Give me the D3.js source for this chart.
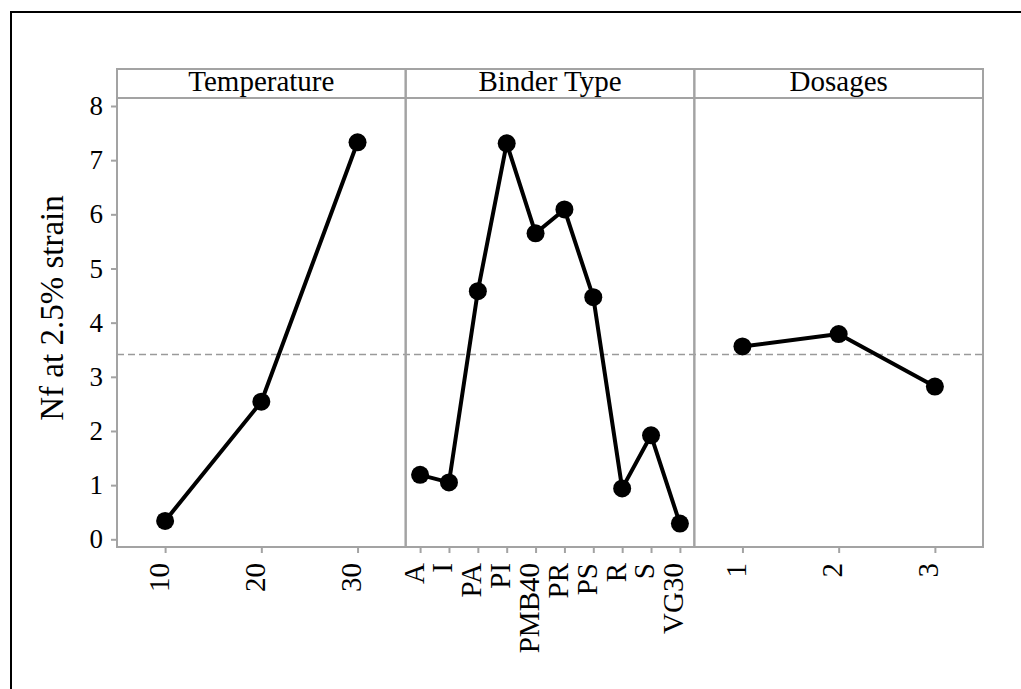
<!DOCTYPE html>
<html>
<head>
<meta charset="utf-8">
<script src="https://cdn.jsdelivr.net/npm/d3@7"></script>
<style>
  html, body { margin: 0; padding: 0; background: #fff; }
  svg { display: block; }
  text { font-family: "Liberation Serif", "Times New Roman", serif; fill: #000; }
</style>
</head>
<body>
<svg id="chart" width="1021" height="689"></svg>
<script>
// ---- data ----
const panelTitles = ["Temperature", "Binder Type", "Dosages"];
const temperatureLevels = ["10", "20", "30"];
const temperatureValues = [0.34, 2.54, 7.33];
const binderLevels = ["A", "I", "PA", "PI", "PMB40", "PR", "PS", "R", "S", "VG30"];
const binderValues = [1.19, 1.05, 4.58, 7.31, 5.65, 6.09, 4.47, 0.94, 1.92, 0.29];
const dosageLevels = ["1", "2", "3"];
const dosageValues = [3.56, 3.79, 2.82];
const grandMean = 3.41;
const yTicks = [0, 1, 2, 3, 4, 5, 6, 7, 8];
const yTitle = "Nf at 2.5% strain";

const panels = [
  { title: panelTitles[0], levels: temperatureLevels, values: temperatureValues },
  { title: panelTitles[1], levels: binderLevels, values: binderValues },
  { title: panelTitles[2], levels: dosageLevels, values: dosageValues }
];

// ---- layout ----
const svg = d3.select("#chart");
const gray = "#a3a3a3";
const left = 117, right = 983;
const headerTop = 69, plotTop = 98, plotBottom = 547;
const panelW = (right - left) / panels.length;

const y = d3.scaleLinear().domain([0, 8]).range([539.3, 106]);

// outer frame
svg.append("rect")
  .attr("x", 11).attr("y", 12).attr("width", 1030).attr("height", 700)
  .attr("fill", "none").attr("stroke", "#000").attr("stroke-width", 2);

// y axis
const yAxis = d3.axisLeft(y).tickValues(yTicks).tickSize(6).tickPadding(8).tickFormat(d3.format("d"));
const yg = svg.append("g").attr("transform", `translate(${left},0)`).call(yAxis);
yg.select(".domain").remove();
yg.selectAll(".tick line").attr("stroke", gray).attr("stroke-width", 2);
yg.selectAll(".tick text")
  .style("font-family", "'Liberation Serif', serif")
  .style("font-size", "27px").attr("fill", "#000");

// y title
svg.append("text")
  .attr("transform", `translate(63,308) rotate(-90)`)
  .attr("text-anchor", "middle")
  .style("font-size", "33px")
  .text(yTitle);

// mean reference line (drawn under the data)
const refLayer = svg.append("g");

panels.forEach((p, i) => {
  const x0 = left + i * panelW, x1 = x0 + panelW;
  const x = d3.scalePoint().domain(p.levels).range([x0, x1]).padding(0.5);
  const g = svg.append("g");

  // header box
  g.append("rect")
    .attr("x", x0).attr("y", headerTop).attr("width", panelW).attr("height", plotTop - headerTop)
    .attr("fill", "none").attr("stroke", gray).attr("stroke-width", 2);
  g.append("text")
    .attr("x", (x0 + x1) / 2).attr("y", 91)
    .attr("text-anchor", "middle")
    .style("font-size", "29px")
    .text(p.title);

  // plot box
  g.append("rect")
    .attr("x", x0).attr("y", plotTop).attr("width", panelW).attr("height", plotBottom - plotTop)
    .attr("fill", "none").attr("stroke", gray).attr("stroke-width", 2);

  // x axis
  const xAxis = d3.axisBottom(x).tickSize(6).tickFormat(d => d);
  const xg = g.append("g").attr("transform", `translate(0,${plotBottom})`).call(xAxis);
  xg.select(".domain").remove();
  xg.selectAll(".tick line").attr("stroke", gray).attr("stroke-width", 2);
  xg.selectAll(".tick text")
    .style("font-family", "'Liberation Serif', serif")
    .style("font-size", "29px").attr("fill", "#000")
    .attr("text-anchor", "end")
    .attr("x", 0).attr("y", 0)
    .attr("dy", "0.1em")
    .attr("transform", "translate(0,16) rotate(-90)");

  // data line + points
  const pts = p.levels.map((lv, k) => [x(lv), y(p.values[k])]);
  g.append("path")
    .attr("d", d3.line()(pts))
    .attr("fill", "none").attr("stroke", "#000").attr("stroke-width", 4)
    .attr("stroke-linejoin", "round");
  g.selectAll("circle").data(pts).enter().append("circle")
    .attr("cx", d => d[0]).attr("cy", d => d[1]).attr("r", 9).attr("fill", "#000");
});

refLayer.append("line")
  .attr("x1", left).attr("x2", right)
  .attr("y1", y(grandMean)).attr("y2", y(grandMean))
  .attr("stroke", "#9a9a9a").attr("stroke-width", 1.5)
  .attr("stroke-dasharray", "7,4");
</script>
</body>
</html>
